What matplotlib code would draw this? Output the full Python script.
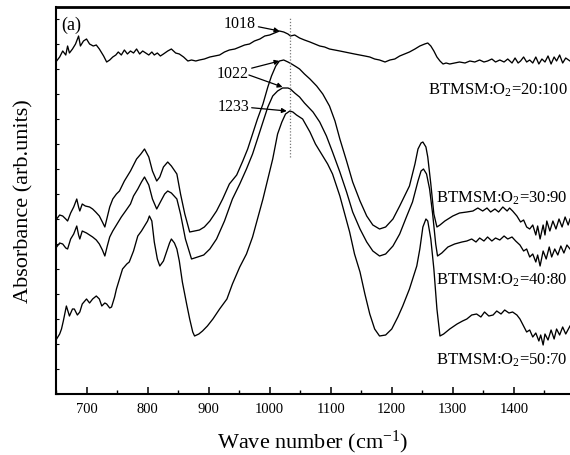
import numpy as np
import matplotlib
matplotlib.use("Agg")
import matplotlib.pyplot as plt
from matplotlib.ticker import MultipleLocator

plt.rcParams['font.family'] = ['Liberation Serif', 'DejaVu Serif']
plt.rcParams['mathtext.fontset'] = 'custom'
plt.rcParams['mathtext.rm'] = 'Liberation Serif'
plt.rcParams['mathtext.it'] = 'Liberation Serif:italic'

# ####################################################################
# DATA (wave number in cm-1, absorbance arb. units)
wn_20 = [651, 656, 661, 666, 669, 672, 677, 682, 687, 690, 695, 700, 705, 711, 716, 721, 728, 733,
         738, 743, 748, 752, 757, 762, 767, 772, 777, 782, 787, 792, 797, 802, 807, 811, 816, 821,
         826, 833, 839, 846, 852, 859, 866, 872, 879, 885, 893, 902, 910, 918, 926, 934, 943, 951,
         959, 967, 975, 984, 992, 1000, 1008, 1016, 1023, 1030, 1034, 1041, 1049, 1057, 1066, 1074,
         1082, 1090, 1098, 1107, 1115, 1123, 1131, 1139, 1148, 1156, 1164, 1172, 1180, 1189, 1197,
         1205, 1213, 1221, 1229, 1238, 1246, 1254, 1259, 1264, 1269, 1274, 1279, 1284, 1289, 1295,
         1303, 1311, 1320, 1328, 1336, 1344, 1351, 1357, 1364, 1370, 1377, 1384, 1390, 1397, 1402,
         1407, 1411, 1416, 1421, 1426, 1431, 1436, 1441, 1446, 1451, 1456, 1461, 1466, 1470, 1475,
         1480, 1485, 1492]
ab_20 = [3.33, 3.37, 3.43, 3.39, 3.48, 3.41, 3.45, 3.50, 3.58, 3.48, 3.53, 3.55, 3.50, 3.48, 3.49,
         3.45, 3.38, 3.32, 3.34, 3.37, 3.39, 3.42, 3.39, 3.44, 3.40, 3.43, 3.41, 3.45, 3.40, 3.43,
         3.41, 3.39, 3.42, 3.39, 3.41, 3.38, 3.40, 3.43, 3.45, 3.41, 3.40, 3.37, 3.33, 3.34, 3.33,
         3.34, 3.35, 3.37, 3.38, 3.39, 3.42, 3.44, 3.45, 3.47, 3.49, 3.50, 3.53, 3.55, 3.58, 3.59,
         3.61, 3.63, 3.62, 3.60, 3.58, 3.59, 3.56, 3.54, 3.52, 3.50, 3.48, 3.47, 3.45, 3.44, 3.43,
         3.42, 3.41, 3.40, 3.39, 3.38, 3.37, 3.35, 3.34, 3.32, 3.34, 3.35, 3.38, 3.40, 3.42, 3.45,
         3.48, 3.50, 3.51, 3.48, 3.43, 3.37, 3.33, 3.30, 3.31, 3.30, 3.31, 3.32, 3.31, 3.33, 3.32,
         3.34, 3.32, 3.33, 3.35, 3.32, 3.34, 3.32, 3.35, 3.31, 3.36, 3.31, 3.33, 3.37, 3.32, 3.34,
         3.31, 3.37, 3.30, 3.35, 3.32, 3.38, 3.30, 3.37, 3.33, 3.39, 3.31, 3.36, 3.33]

wn_30 = [651, 656, 661, 666, 669, 674, 679, 684, 687, 689, 693, 698, 705, 710, 715, 721, 726, 730,
         734, 738, 743, 749, 754, 762, 772, 777, 782, 789, 795, 802, 808, 815, 820, 826, 833, 839,
         848, 854, 861, 869, 877, 885, 893, 902, 913, 923, 934, 946, 956, 964, 972, 980, 989, 997,
         1003, 1010, 1016, 1023, 1030, 1036, 1044, 1049, 1057, 1066, 1077, 1087, 1098, 1107, 1115,
         1126, 1136, 1148, 1159, 1169, 1180, 1190, 1202, 1213, 1221, 1229, 1238, 1243, 1248, 1251,
         1256, 1259, 1264, 1269, 1274, 1279, 1287, 1300, 1311, 1323, 1333, 1341, 1349, 1356, 1362,
         1369, 1375, 1382, 1389, 1393, 1398, 1405, 1411, 1416, 1421, 1426, 1431, 1436, 1439, 1443,
         1448, 1451, 1454, 1459, 1464, 1469, 1474, 1479, 1484, 1489, 1492]
ab_30 = [1.75, 1.79, 1.78, 1.75, 1.73, 1.81, 1.87, 1.95, 1.87, 1.83, 1.90, 1.88, 1.87, 1.85, 1.82,
         1.78, 1.72, 1.67, 1.77, 1.87, 1.95, 2.00, 2.03, 2.13, 2.23, 2.29, 2.35, 2.40, 2.45, 2.37,
         2.23, 2.13, 2.17, 2.27, 2.32, 2.28, 2.20, 2.00, 1.80, 1.62, 1.63, 1.64, 1.67, 1.73, 1.83,
         1.95, 2.10, 2.19, 2.33, 2.45, 2.60, 2.75, 2.90, 3.07, 3.18, 3.28, 3.33, 3.34, 3.32, 3.30,
         3.27, 3.25, 3.20, 3.15, 3.08, 3.00, 2.88, 2.73, 2.55, 2.33, 2.12, 1.93, 1.78, 1.69, 1.65,
         1.67, 1.75, 1.88, 1.98, 2.08, 2.30, 2.45, 2.51, 2.52, 2.47, 2.37, 2.10, 1.80, 1.67, 1.69,
         1.73, 1.78, 1.81, 1.82, 1.83, 1.86, 1.83, 1.86, 1.82, 1.85, 1.82, 1.87, 1.83, 1.86, 1.83,
         1.78, 1.72, 1.74, 1.67, 1.65, 1.69, 1.59, 1.68, 1.55, 1.69, 1.59, 1.73, 1.63, 1.73, 1.65,
         1.75, 1.67, 1.77, 1.69, 1.75]

wn_40 = [651, 656, 661, 666, 669, 674, 679, 684, 687, 689, 693, 700, 705, 710, 716, 721, 726, 730,
         734, 738, 743, 749, 757, 764, 772, 777, 784, 790, 795, 802, 808, 815, 821, 828, 833, 839,
         848, 854, 862, 872, 882, 892, 902, 913, 926, 939, 951, 962, 972, 980, 989, 997, 1005, 1013,
         1021, 1030, 1034, 1041, 1049, 1057, 1071, 1082, 1093, 1103, 1115, 1126, 1136, 1148, 1159,
         1169, 1180, 1190, 1202, 1213, 1224, 1234, 1243, 1248, 1252, 1257, 1262, 1267, 1272, 1275,
         1282, 1292, 1303, 1315, 1323, 1331, 1338, 1344, 1351, 1357, 1364, 1370, 1377, 1384, 1390,
         1397, 1403, 1410, 1416, 1421, 1426, 1431, 1436, 1439, 1443, 1448, 1453, 1458, 1462, 1467,
         1472, 1477, 1482, 1487, 1492]
ab_40 = [1.47, 1.51, 1.50, 1.46, 1.45, 1.55, 1.60, 1.68, 1.59, 1.55, 1.63, 1.61, 1.59, 1.57, 1.54,
         1.50, 1.44, 1.38, 1.48, 1.57, 1.63, 1.69, 1.77, 1.83, 1.90, 1.98, 2.05, 2.12, 2.17, 2.09,
         1.95, 1.85, 1.92, 2.00, 2.03, 2.01, 1.95, 1.80, 1.55, 1.35, 1.37, 1.39, 1.45, 1.55, 1.73,
         1.95, 2.10, 2.25, 2.40, 2.55, 2.72, 2.87, 2.98, 3.03, 3.06, 3.06, 3.05, 3.01, 2.97, 2.91,
         2.82, 2.72, 2.58, 2.42, 2.22, 2.02, 1.82, 1.65, 1.52, 1.43, 1.38, 1.40, 1.48, 1.60, 1.77,
         1.92, 2.13, 2.23, 2.25, 2.20, 2.05, 1.80, 1.50, 1.38, 1.41, 1.47, 1.50, 1.52, 1.53, 1.55,
         1.52, 1.56, 1.53, 1.57, 1.53, 1.56, 1.54, 1.58, 1.55, 1.57, 1.53, 1.49, 1.43, 1.45, 1.37,
         1.40, 1.32, 1.39, 1.28, 1.43, 1.35, 1.47, 1.37, 1.45, 1.39, 1.48, 1.41, 1.49, 1.45]

wn_50 = [651, 656, 659, 662, 667, 672, 677, 680, 685, 689, 693, 700, 705, 710, 716, 721, 725, 730,
         733, 738, 741, 746, 749, 754, 759, 766, 770, 777, 784, 790, 795, 800, 803, 807, 811, 816,
         820, 826, 831, 836, 839, 844, 848, 852, 857, 864, 869, 874, 877, 884, 890, 898, 907, 918,
         930, 939, 951, 962, 972, 980, 989, 997, 1005, 1013, 1020, 1026, 1033, 1038, 1044, 1054,
         1066, 1075, 1085, 1095, 1103, 1115, 1123, 1131, 1139, 1148, 1156, 1164, 1172, 1180, 1190,
         1200, 1210, 1218, 1229, 1241, 1246, 1251, 1256, 1259, 1264, 1269, 1274, 1279, 1285, 1295,
         1307, 1316, 1323, 1331, 1339, 1346, 1352, 1359, 1366, 1372, 1379, 1385, 1392, 1398, 1405,
         1410, 1416, 1421, 1426, 1431, 1436, 1441, 1444, 1448, 1451, 1456, 1461, 1466, 1470, 1475,
         1480, 1485, 1492]
ab_50 = [0.55, 0.60, 0.65, 0.73, 0.88, 0.78, 0.85, 0.85, 0.79, 0.82, 0.90, 0.95, 0.91, 0.95, 0.98,
         0.95, 0.88, 0.91, 0.90, 0.86, 0.87, 0.97, 1.05, 1.15, 1.25, 1.30, 1.32, 1.43, 1.58, 1.63,
         1.68, 1.73, 1.78, 1.73, 1.52, 1.35, 1.28, 1.33, 1.42, 1.51, 1.55, 1.51, 1.45, 1.33, 1.12,
         0.90, 0.75, 0.62, 0.58, 0.60, 0.63, 0.68, 0.75, 0.85, 0.95, 1.10, 1.27, 1.40, 1.57, 1.75,
         1.95, 2.15, 2.35, 2.60, 2.72, 2.80, 2.83, 2.82, 2.79, 2.75, 2.62, 2.50, 2.40, 2.30, 2.20,
         1.98, 1.80, 1.62, 1.40, 1.22, 1.00, 0.80, 0.65, 0.58, 0.59, 0.65, 0.77, 0.88, 1.05, 1.28,
         1.45, 1.67, 1.75, 1.73, 1.55, 1.25, 0.85, 0.58, 0.60, 0.65, 0.70, 0.73, 0.75, 0.79, 0.80,
         0.77, 0.82, 0.78, 0.79, 0.83, 0.80, 0.84, 0.81, 0.82, 0.79, 0.75, 0.68, 0.62, 0.64, 0.57,
         0.61, 0.53, 0.59, 0.49, 0.60, 0.54, 0.64, 0.55, 0.65, 0.59, 0.67, 0.60, 0.68]

labels = ['BTMSM:O$_2$=20:100', 'BTMSM:O$_2$=30:90', 'BTMSM:O$_2$=40:80', 'BTMSM:O$_2$=50:70']
label_y = [3.05, 1.97, 1.15, 0.35]
peak_line = 1034
# ####################################################################

fig = plt.figure(figsize=(5.7, 4.56), dpi=100)
ax = fig.add_axes([56/570, 61/456, 514/570, 387/456])

for x, y in [(wn_20, ab_20), (wn_30, ab_30), (wn_40, ab_40), (wn_50, ab_50)]:
    ax.plot(x, y, color='black', lw=0.95)

ax.set_xlim(650, 1492)
ax.set_ylim(0, 3.87)

# dotted marker line through the Si-O-Si peak
ax.plot([peak_line, peak_line], [2.37, 3.77], color='#777777', lw=0.9, ls=(0, (1, 1.5)))

# peak annotations
arr = dict(arrowstyle='-|>', color='black', lw=0.9, mutation_scale=7, shrinkA=0, shrinkB=0)
ax.annotate('1018', xy=(1016, 3.63), xytext=(977, 3.71), ha='right', va='center', fontsize=11.5, arrowprops=arr)
ax.annotate('1022', xy=(1016, 3.33), xytext=(966, 3.21), ha='right', va='center', fontsize=11.5, arrowprops=arr)
ax.annotate('', xy=(1021, 3.07), xytext=(966, 3.19), arrowprops=arr)
ax.annotate('1233', xy=(1028, 2.83), xytext=(966, 2.88), ha='right', va='center', fontsize=11.5, arrowprops=arr)

ax.text(659, 3.70, '(a)', ha='left', va='center', fontsize=13)

for lab, ly in zip(labels, label_y):
    ax.text(1488, ly, lab, ha='right', va='center', fontsize=12)

# axes styling
ax.spines['right'].set_visible(False)
ax.spines['top'].set_linewidth(2.0)
ax.spines['left'].set_linewidth(1.5)
ax.spines['bottom'].set_linewidth(1.5)

ax.xaxis.set_major_locator(MultipleLocator(100))
ax.xaxis.set_minor_locator(MultipleLocator(50))
ax.tick_params(axis='x', which='major', direction='in', length=5, width=1.1, labelsize=10.5, pad=6)
ax.tick_params(axis='x', which='minor', direction='in', length=3, width=1.0)
ax.yaxis.set_major_locator(MultipleLocator(0.25))
ax.tick_params(axis='y', which='major', direction='in', length=2, width=0.8, labelleft=False)
ax.tick_params(top=False, right=False)

ax.set_xlabel('Wave number (cm$^{-1}$)', fontsize=16, labelpad=9)
ax.set_ylabel('Absorbance (arb.units)', fontsize=16, labelpad=16)

plt.savefig('out.png', format='png', dpi=100)
